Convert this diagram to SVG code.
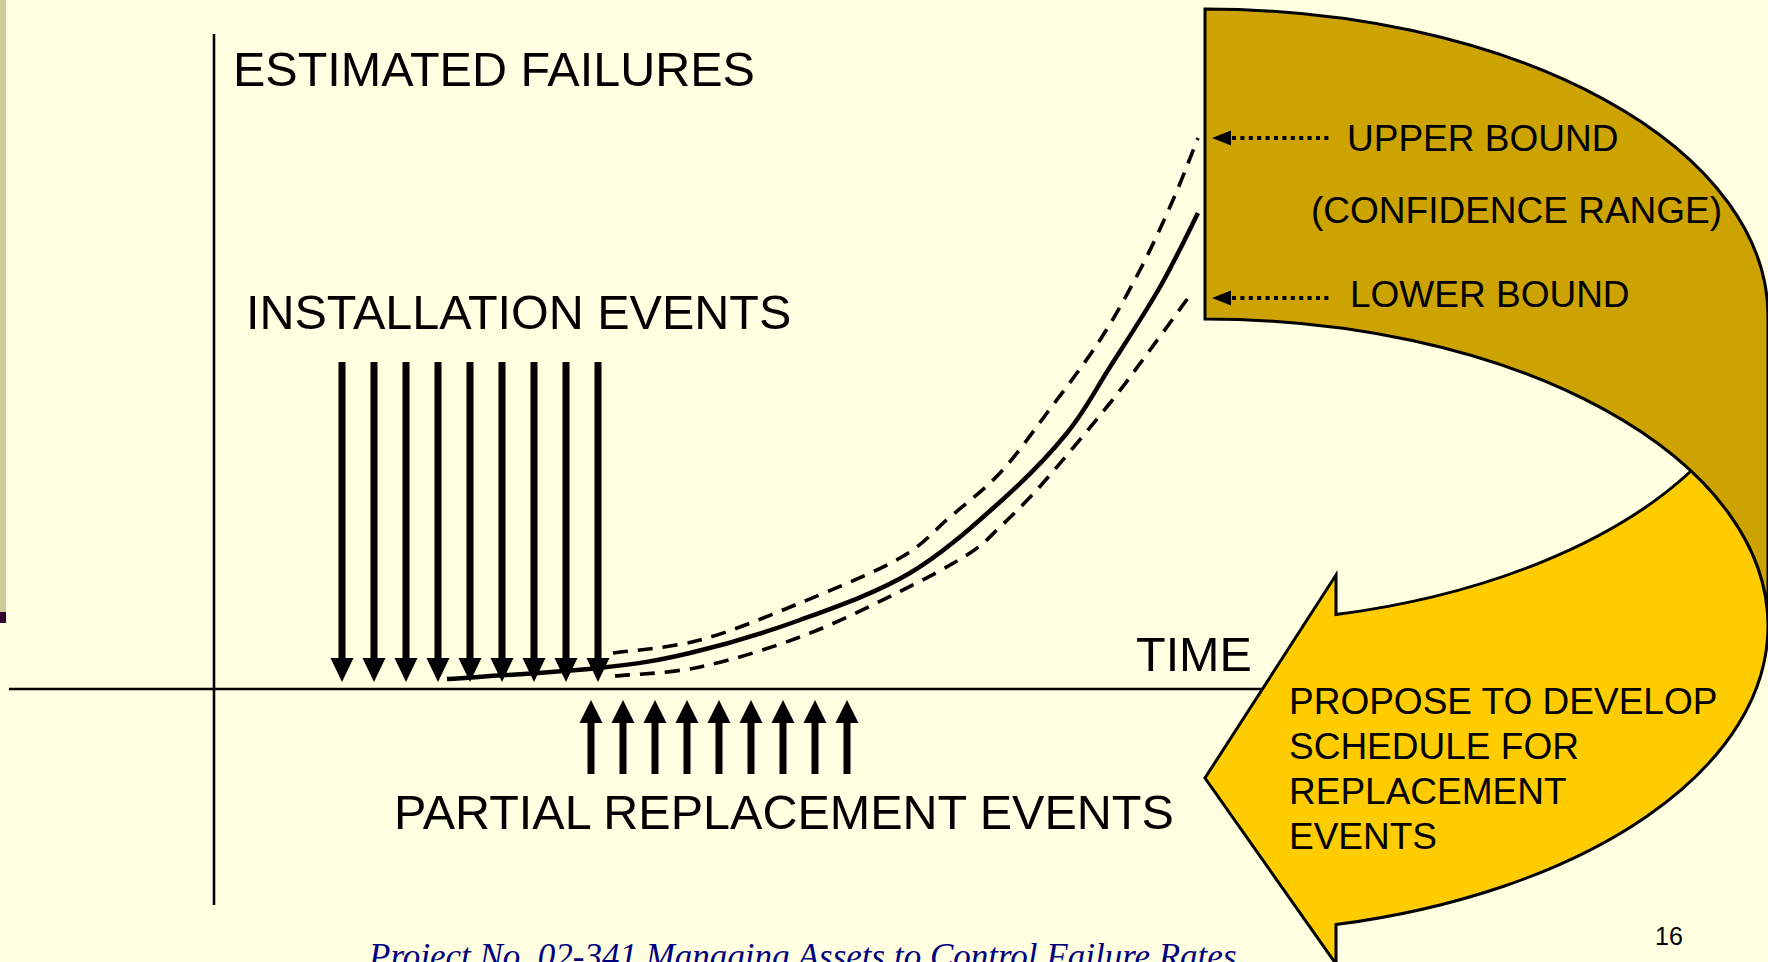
<svg xmlns="http://www.w3.org/2000/svg" width="1768" height="962" viewBox="0 0 1768 962">
  <defs>
    <style>
      .lbl { font-family: "Liberation Sans", Arial, sans-serif; fill: #000; }
      .big { font-size: 48.5px; }
      .mid { font-size: 37px; }
      .axis { stroke: #000; stroke-width: 2.6; fill: none; }
      .curve { stroke: #000; stroke-width: 4.5; fill: none; }
      .bound { stroke: #000; stroke-width: 3.6; fill: none; stroke-dasharray: 15 10; }
      .dots { stroke: #000; stroke-width: 4; fill: none; stroke-dasharray: 4 4.4; }
      .shaft { stroke: #000; stroke-width: 7; }
    </style>
    <!-- downward event arrow, tip at origin -->
    <g id="down-arrow">
      <line class="shaft" x1="0" y1="-320" x2="0" y2="-22"/>
      <polygon points="-11.5,-24 11.5,-24 0,0" fill="#000"/>
    </g>
    <!-- upward event arrow, tip at origin -->
    <g id="up-arrow">
      <line class="shaft" x1="0" y1="22" x2="0" y2="74"/>
      <polygon points="-11.5,23 11.5,23 0,0" fill="#000"/>
    </g>
  </defs>

  <!-- slide background -->
  <rect x="0" y="0" width="1768" height="962" fill="#FFFFE1"/>
  <rect x="0" y="0" width="6" height="612" fill="#CCCC99"/>
  <rect x="0" y="612" width="6" height="11" fill="#330033"/>

  <!-- axes -->
  <g id="axes">
    <line class="axis" x1="214" y1="34" x2="214" y2="905"/>
    <line class="axis" x1="9" y1="689" x2="1262" y2="689"/>
  </g>

  <!-- axis and event labels -->
  <g id="label-estimated-failures"><text class="lbl big" x="233" y="86">ESTIMATED FAILURES</text></g>
  <g id="label-installation"><text class="lbl big" x="246" y="329">INSTALLATION EVENTS</text></g>
  <g id="label-time"><text class="lbl big" x="1136" y="671">TIME</text></g>
  <g id="label-partial"><text class="lbl big" x="394" y="829">PARTIAL REPLACEMENT EVENTS</text></g>

  <!-- installation events -->
  <g id="installation-events">
    <use href="#down-arrow" x="342" y="682"/>
    <use href="#down-arrow" x="374" y="682"/>
    <use href="#down-arrow" x="406" y="682"/>
    <use href="#down-arrow" x="438" y="682"/>
    <use href="#down-arrow" x="470" y="682"/>
    <use href="#down-arrow" x="502" y="682"/>
    <use href="#down-arrow" x="534" y="682"/>
    <use href="#down-arrow" x="566" y="682"/>
    <use href="#down-arrow" x="598" y="682"/>
  </g>

  <!-- partial replacement events -->
  <g id="replacement-events">
    <use href="#up-arrow" x="591" y="700"/>
    <use href="#up-arrow" x="623" y="700"/>
    <use href="#up-arrow" x="655" y="700"/>
    <use href="#up-arrow" x="687" y="700"/>
    <use href="#up-arrow" x="719" y="700"/>
    <use href="#up-arrow" x="751" y="700"/>
    <use href="#up-arrow" x="783" y="700"/>
    <use href="#up-arrow" x="815" y="700"/>
    <use href="#up-arrow" x="847" y="700"/>
  </g>

  <!-- failure estimate with confidence bounds -->
  <g id="estimate-curves">
    <path class="curve" d="M447,679 C472.2,677.2 557.5,672.3 598,668 C638.5,663.7 656.3,661 690,653 C723.7,645 763.3,633.3 800,620 C836.7,606.7 876.7,592.7 910,573 C943.3,553.3 973.8,525.3 1000,502 C1026.2,478.7 1048.7,455.5 1067,433 C1085.3,410.5 1094.5,391.3 1110,367 C1125.5,342.7 1145.3,312.7 1160,287 C1174.7,261.3 1191.7,225.3 1198,213"/>
    <path class="bound" d="M613,653 C627.5,650.8 668.8,648.3 700,640 C731.2,631.7 766.7,616.7 800,603 C833.3,589.3 875,572.3 900,558 C925,543.7 933.3,531.2 950,517 C966.7,502.8 983.8,490.3 1000,473 C1016.2,455.7 1030.3,435.2 1047,413 C1063.7,390.8 1084.5,363.8 1100,340 C1115.5,316.2 1127.8,293.3 1140,270 C1152.2,246.7 1163.3,222 1173,200 C1182.7,178 1193.8,148.3 1198,138"/>
    <path class="bound" d="M615,676 C629.2,674.5 669.2,673.5 700,667 C730.8,660.5 767.8,649 800,637 C832.2,625 865.2,608.7 893,595 C920.8,581.3 949.2,566.3 967,555 C984.8,543.7 987.3,539 1000,527 C1012.7,515 1024.7,503.7 1043,483 C1061.3,462.3 1092.2,425.2 1110,403 C1127.8,380.8 1137,367.5 1150,350 C1163,332.5 1181.7,306.7 1188,298"/>
  </g>

  <!-- curved arrow: back band, front band with head, outline -->
  <g id="curved-arrow">
    <path fill="#CCA300" d="M1768,626 A563,307 0 0 0 1205,319 L1205,9 A563,307 0 0 1 1768,316 Z"/>
    <path fill="#FFCC00" d="M1205,778 L1336,575 L1336,614.6 A563,307 0 0 0 1691,471 A563,307 0 0 1 1336,924.6 L1336,964 Z"/>
    <path fill="none" stroke="#000" stroke-width="3" stroke-linejoin="miter" d="M1768,626 A563,307 0 0 0 1205,319 L1205,9 A563,307 0 0 1 1768,316 L1768,626 A563,307 0 0 1 1336,924.6 L1336,964 L1205,778 L1336,575 L1336,614.6 A563,307 0 0 0 1691,471"/>
  </g>

  <!-- bound callouts -->
  <g id="upper-bound">
    <line class="dots" x1="1232" y1="138" x2="1329" y2="138"/>
    <polygon points="1212,138 1231,130.5 1231,145.5" fill="#000"/>
    <text class="lbl mid" x="1347" y="151">UPPER BOUND</text>
  </g>
  <g id="confidence-range">
    <text class="lbl mid" x="1311" y="223">(CONFIDENCE RANGE)</text>
  </g>
  <g id="lower-bound">
    <line class="dots" x1="1232" y1="298" x2="1329" y2="298"/>
    <polygon points="1212,298 1231,290.5 1231,305.5" fill="#000"/>
    <text class="lbl mid" x="1350" y="307">LOWER BOUND</text>
  </g>

  <!-- proposal text on the arrow -->
  <g id="proposal">
    <text class="lbl mid" x="1289" y="714">PROPOSE TO DEVELOP</text>
    <text class="lbl mid" x="1289" y="759">SCHEDULE FOR</text>
    <text class="lbl mid" x="1289" y="804">REPLACEMENT</text>
    <text class="lbl mid" x="1289" y="849">EVENTS</text>
  </g>

  <!-- footer -->
  <g id="footer">
    <text x="369" y="968" font-family="'Liberation Serif', 'Times New Roman', serif" font-style="italic" font-size="35" fill="#000080">Project No. 02-341 Managing Assets to Control Failure Rates</text>
    <text x="1655" y="945" font-family="'Liberation Sans', Arial, sans-serif" font-size="25" fill="#000">16</text>
  </g>
</svg>
